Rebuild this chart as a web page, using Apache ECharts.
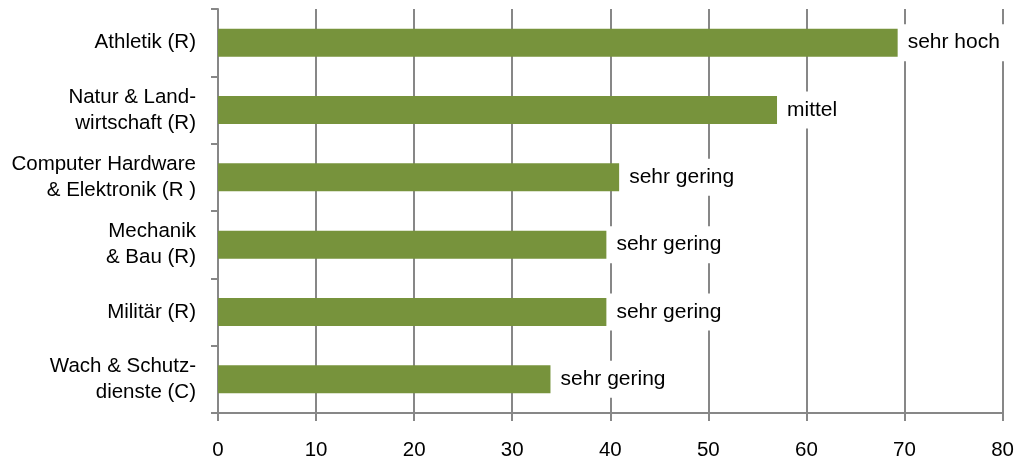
<!DOCTYPE html>
<html>
<head>
<meta charset="utf-8">
<script src="https://cdn.jsdelivr.net/npm/echarts@6/dist/echarts.min.js"></script>
<style>
  html, body { margin: 0; padding: 0; background: #fff; }
  #chart { width: 1017px; height: 461px; }
</style>
</head>
<body>
<div id="chart"></div>
<script>
// Kategorien (oben nach unten)
const categories = [
  'Athletik (R)',
  'Natur & Land-\nwirtschaft (R)',
  'Computer Hardware\n& Elektronik (R )',
  'Mechanik\n& Bau (R)',
  'Militär (R)',
  'Wach & Schutz-\ndienste (C)'
]
const values = [69.3, 57.0, 40.9, 39.6, 39.6, 33.9]
const ratings = ['sehr hoch', 'mittel', 'sehr gering', 'sehr gering', 'sehr gering', 'sehr gering']

const gray = '#878787'
const font = 'Liberation Sans'

const myChart = echarts.init(document.getElementById('chart'))
myChart.setOption({
  animation: false,
  grid: {
    left: 218,
    right: 13,
    top: 9,
    bottom: 47
  },
  xAxis: {
    type: 'value',
    min: 0,
    max: 80,
    interval: 10,
    axisLine: { show: true, lineStyle: { color: gray, width: 2 } },
    axisTick: { show: true, length: 8, lineStyle: { color: gray, width: 2 } },
    splitLine: { show: true, lineStyle: { color: gray, width: 2 } },
    axisLabel: { color: '#000', fontSize: 20.5, fontFamily: font, margin: 27 }
  },
  yAxis: {
    type: 'category',
    data: categories,
    inverse: true,
    axisLine: { show: true, lineStyle: { color: gray, width: 2 } },
    axisTick: { show: true, length: 7, lineStyle: { color: gray, width: 2 } },
    axisLabel: {
      color: '#000',
      fontSize: 20.5,
      fontFamily: font,
      lineHeight: 26,
      margin: 22,
      align: 'right'
    }
  },
  series: [
    {
      type: 'bar',
      data: values,
      barWidth: 28,
      itemStyle: { color: '#77933C' },
      label: {
        show: true,
        position: 'right',
        distance: 3,
        padding: [8, 7],
        backgroundColor: '#fff',
        color: '#000',
        fontSize: 21,
        fontFamily: font,
        formatter: function(params) {
          return ratings[params.dataIndex]
        }
      }
    }
  ]
})
</script>
</body>
</html>
